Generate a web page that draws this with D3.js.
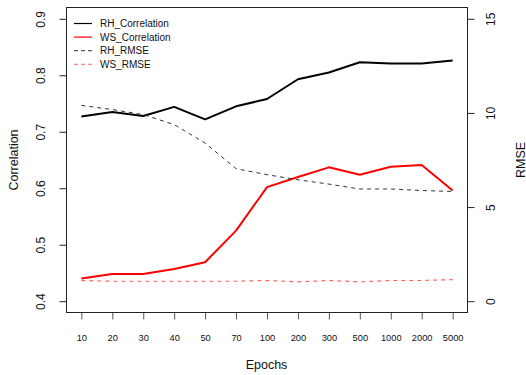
<!DOCTYPE html>
<html>
<head>
<meta charset="utf-8">
<script src="https://cdn.jsdelivr.net/npm/d3@7"></script>
<style>
  html, body { margin: 0; padding: 0; background: #fff; }
  svg { display: block; font-family: "Liberation Sans", Arial, sans-serif; }
</style>
</head>
<body>
<svg id="chart" width="526" height="375"></svg>
<script>
// Training epochs (categorical x positions)
const epochs = ["10", "20", "30", "40", "50", "70", "100", "200", "300", "500", "1000", "2000", "5000"];

// Correlation series (left axis)
const rhCorrelation = [0.727, 0.735, 0.728, 0.744, 0.722, 0.745, 0.758, 0.793, 0.805, 0.823, 0.821, 0.821, 0.826];
const wsCorrelation = [0.440, 0.448, 0.448, 0.457, 0.469, 0.525, 0.602, 0.620, 0.637, 0.624, 0.638, 0.641, 0.596];

// RMSE series (right axis)
const rhRmse = [10.40, 10.18, 9.91, 9.38, 8.40, 7.04, 6.72, 6.45, 6.22, 5.96, 5.96, 5.88, 5.83];
const wsRmse = [1.10, 1.06, 1.06, 1.06, 1.06, 1.06, 1.10, 1.03, 1.10, 1.03, 1.10, 1.10, 1.15];

// Axis ticks
const corrTicks = [0.4, 0.5, 0.6, 0.7, 0.8, 0.9];
const rmseTicks = [0, 5, 10, 15];

const svg = d3.select("#chart");
const box = { left: 66.5, right: 467.5, top: 7.5, bottom: 312.5 };

const idx = epochs.map((d, i) => i + 1);
const x = d3.scaleLinear().domain([0.52, 13.48]).range([box.left, box.right]);
const yCorr = d3.scaleLinear().domain([0.38, 0.92]).range([box.bottom, box.top]);
const yRmse = d3.scaleLinear().domain([-0.6, 15.6]).range([box.bottom, box.top]);

// Bottom axis: epoch labels
const gx = svg.append("g")
  .attr("transform", `translate(0,${box.bottom})`)
  .call(d3.axisBottom(x).tickValues(idx).tickFormat(i => epochs[i - 1]).tickSize(7).tickPadding(0));
gx.select(".domain").remove();
gx.selectAll(".tick line").attr("stroke", "#555");
gx.selectAll(".tick text")
  .attr("y", 28.5).attr("dy", null)
  .attr("font-size", "9.3px").attr("fill", "#111")
  .attr("font-family", "Liberation Sans, Arial, sans-serif");

// Left axis: correlation
const gl = svg.append("g")
  .attr("transform", `translate(${box.left},0)`)
  .call(d3.axisLeft(yCorr).tickValues(corrTicks).tickFormat(d3.format(".1f")).tickSize(7));
gl.select(".domain").remove();
gl.selectAll(".tick line").attr("stroke", "#222");
gl.selectAll(".tick text")
  .attr("transform", "rotate(-90)")
  .attr("x", 0).attr("y", -22).attr("dy", null)
  .attr("text-anchor", "middle")
  .attr("font-size", "12px").attr("fill", "#111")
  .attr("font-family", "Liberation Sans, Arial, sans-serif");

// Right axis: RMSE
const gr = svg.append("g")
  .attr("transform", `translate(${box.right},0)`)
  .call(d3.axisRight(yRmse).tickValues(rmseTicks).tickSize(7));
gr.select(".domain").remove();
gr.selectAll(".tick line").attr("stroke", "#222");
gr.selectAll(".tick text")
  .attr("transform", "rotate(-90)")
  .attr("x", 0).attr("y", 27.5).attr("dy", null)
  .attr("text-anchor", "middle")
  .attr("font-size", "12px").attr("fill", "#111")
  .attr("font-family", "Liberation Sans, Arial, sans-serif");

// Plot frame
svg.append("rect")
  .attr("x", box.left).attr("y", box.top)
  .attr("width", box.right - box.left).attr("height", box.bottom - box.top)
  .attr("fill", "none").attr("stroke", "#222").attr("stroke-width", 1);

// Axis titles
svg.append("text")
  .attr("transform", `translate(18.3,160) rotate(-90)`)
  .attr("text-anchor", "middle").attr("font-size", "12.5px").attr("fill", "#111")
  .text("Correlation");
svg.append("text")
  .attr("transform", `translate(524.5,160) rotate(-90)`)
  .attr("text-anchor", "middle").attr("font-size", "12.5px").attr("fill", "#111")
  .text("RMSE");
svg.append("text")
  .attr("x", 266.5).attr("y", 369)
  .attr("text-anchor", "middle").attr("font-size", "12.5px").attr("fill", "#111")
  .text("Epochs");

// Series
const series = [
  { name: "RH_Correlation", values: rhCorrelation, y: yCorr, color: "#000", width: 2, dash: null, opacity: 1 },
  { name: "WS_Correlation", values: wsCorrelation, y: yCorr, color: "#ff0000", width: 2, dash: null, opacity: 1 },
  { name: "RH_RMSE", values: rhRmse, y: yRmse, color: "#333", width: 1, dash: "4,4", opacity: 1 },
  { name: "WS_RMSE", values: wsRmse, y: yRmse, color: "#ff3030", width: 1.2, dash: "4,4", opacity: 0.75 }
];

series.forEach(s => {
  const line = d3.line().x((d, i) => x(i + 1)).y(d => s.y(d));
  svg.append("path")
    .datum(s.values)
    .attr("d", line)
    .attr("fill", "none")
    .attr("stroke", s.color)
    .attr("stroke-width", s.width)
    .attr("stroke-opacity", s.opacity)
    .attr("stroke-dasharray", s.dash)
    .attr("stroke-linejoin", "round");
});

// Legend
const legend = svg.append("g");
series.forEach((s, i) => {
  const ly = 23.5 + i * 13.6;
  legend.append("line")
    .attr("x1", 74).attr("x2", 92).attr("y1", ly).attr("y2", ly)
    .attr("stroke", s.color)
    .attr("stroke-width", s.dash ? 1 : 1.2)
    .attr("stroke-opacity", s.opacity)
    .attr("stroke-dasharray", s.dash ? "4,3" : null);
  legend.append("text")
    .attr("x", 100).attr("y", ly + 3.6)
    .attr("font-size", "10px").attr("fill", "#111")
    .text(s.name);
});
</script>
</body>
</html>
